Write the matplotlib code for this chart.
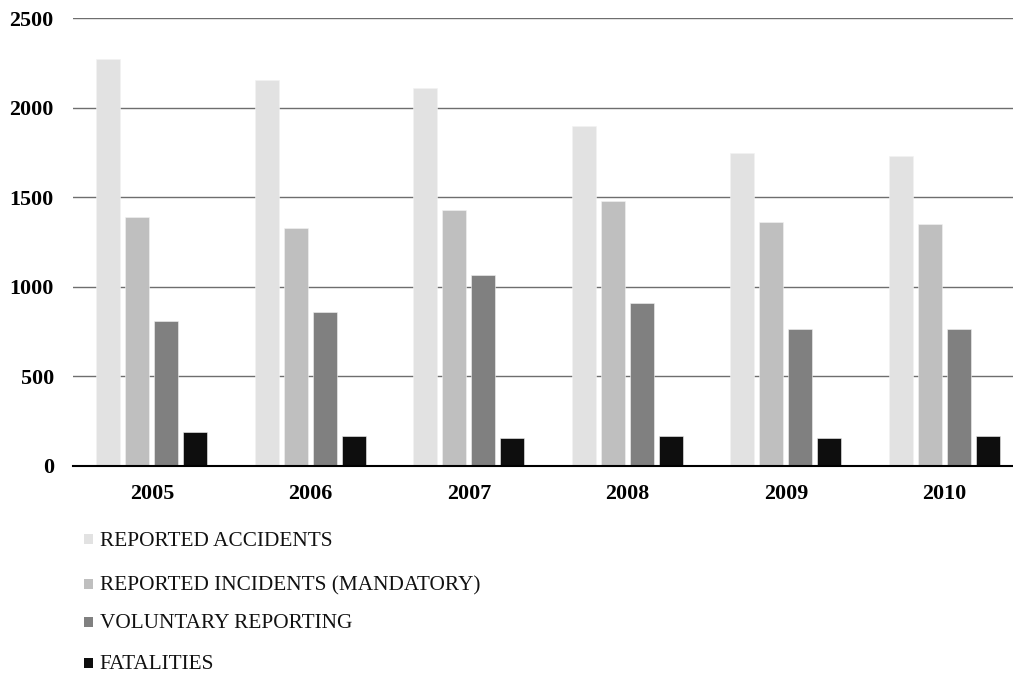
import matplotlib
matplotlib.use("Agg")
import matplotlib.pyplot as plt
import numpy as np
from matplotlib.patches import Rectangle

years = ["2005", "2006", "2007", "2008", "2009", "2010"]
reported_accidents = [2275, 2153, 2112, 1898, 1749, 1728]
reported_incidents = [1389, 1329, 1428, 1477, 1361, 1348]
voluntary_reporting = [809, 858, 1066, 908, 763, 764]
fatalities = [190, 168, 155, 168, 155, 168]

series_names = ["REPORTED ACCIDENTS", "REPORTED INCIDENTS (MANDATORY)",
                "VOLUNTARY REPORTING", "FATALITIES"]
series_values = [reported_accidents, reported_incidents, voluntary_reporting, fatalities]
series_colors = ["#e2e2e2", "#bfbfbf", "#808080", "#0e0e0e"]
y_ticks = [0, 500, 1000, 1500, 2000, 2500]

plt.rcParams["font.family"] = ["Liberation Serif", "DejaVu Serif"]

W, H = 1013, 673
fig = plt.figure(figsize=(W / 100, H / 100), dpi=100)
ax_left, ax_right, ax_top, ax_bottom = 72.6, 1023.6, 18.3, 465.7
ax = fig.add_axes([ax_left / W, 1 - ax_bottom / H,
                   (ax_right - ax_left) / W, (ax_bottom - ax_top) / H])

x = np.arange(len(years))
bar_w = 24 / 158.5
step = 29 / 158.5
offsets = (np.arange(4) - 1.5) * step
for vals, off, col in zip(series_values, offsets, series_colors):
    ax.bar(x + off, vals, width=bar_w, color=col, edgecolor="#f2f2f2",
           linewidth=0.4, zorder=3)

ax.set_xlim(-0.5, len(years) - 0.5)
ax.set_ylim(0, 2500)
ax.set_yticks(y_ticks)
ax.set_yticklabels([str(t) for t in y_ticks], fontsize=15.8, fontweight="bold")
ax.set_xticks(x)
ax.set_xticklabels(years, fontsize=15.8, fontweight="bold")
ax.tick_params(axis="both", length=0)
ax.tick_params(axis="y", pad=13.5)
ax.tick_params(axis="x", pad=13)
ax.yaxis.grid(True, color="#6e6e6e", linewidth=1.0, zorder=0)
for side in ["top", "right", "left"]:
    ax.spines[side].set_visible(False)
ax.spines["bottom"].set_color("#000000")
ax.spines["bottom"].set_linewidth(1.5)
ax.spines["bottom"].set_zorder(4)

# legend drawn as a vertical list below the plot
baselines = [545.5, 590.0, 628.0, 669.0]
for name, col, yb in zip(series_names, series_colors, baselines):
    fig.patches.append(Rectangle((84 / W, 1 - (yb - 1.5) / H), 9 / W, 10 / H,
                                 transform=fig.transFigure, facecolor=col,
                                 edgecolor="none"))
    fig.text(99.5 / W, 1 - yb / H, name, fontsize=15.3, va="baseline",
             ha="left", color="#111111")

fig.savefig("out.png", dpi=100)
